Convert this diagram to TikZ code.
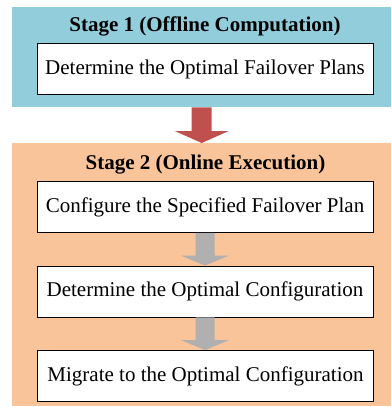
\documentclass[tikz,border=0pt]{standalone}
\usepackage{fontspec}
\setmainfont{Liberation Serif}
\usetikzlibrary{calc}
\definecolor{stageblue}{HTML}{92CDDC}
\definecolor{stageorange}{HTML}{F9C499}
\definecolor{arrowred}{HTML}{C0504D}
\definecolor{arrowgray}{HTML}{B0B0B0}
\tikzset{
  x=1pt, y=1pt,
  stagebg/.style={draw=none},
  stagetitle/.style={font=\fontsize{21}{24}\selectfont\bfseries, inner sep=0pt},
  taskbox/.style={draw=black, line width=0.8pt, fill=white, minimum width=336pt,
    minimum height=51pt, inner sep=0pt, font=\fontsize{21}{24}\selectfont},
}
% block arrow between two nodes: shaft half-width, head half-width, head length
\newcommand{\blockarrow}[6]{%
  \fill[#3] let \p1=(#1.south), \p2=(#2.north) in
    (\x1-#4,\y1) -- (\x1+#4,\y1) -- (\x1+#4,\y2+#6) -- (\x1+#5,\y2+#6)
    -- (\x1,\y2) -- (\x1-#5,\y2+#6) -- (\x1-#4,\y2+#6) -- cycle;}
\begin{document}
\begin{tikzpicture}
\useasboundingbox (0,0) rectangle (391,-407);
% stage backgrounds
\node[stagebg, fill=stageblue, minimum width=379pt, minimum height=100pt, anchor=north west, inner sep=0pt] (s1) at (12,-7) {};
\node[stagebg, fill=stageorange, minimum width=379pt, minimum height=263pt, anchor=north west, inner sep=0pt] (s2) at (12,-143) {};
% titles
\node[stagetitle] (t1) at (205,-26) {Stage 1 (Offline Computation)};
\node[stagetitle] (t2) at (205.5,-165) {Stage 2 (Online Execution)};
% task boxes
\node[taskbox] (b1) at (205,-69) {Determine the Optimal Failover Plans};
\node[taskbox] (b2) at (205,-207) {Configure the Specified Failover Plan};
\node[taskbox] (b3) at (205,-291.5) {Determine the Optimal Configuration};
\node[taskbox] (b4) at (205.5,-376) {Migrate to the Optimal Configuration};
% arrows
\blockarrow{s1}{s2}{arrowred}{10}{27}{12}
\blockarrow{b2}{b3}{arrowgray}{9.5}{24}{10}
\blockarrow{b3}{b4}{arrowgray}{9.5}{24}{10}
\end{tikzpicture}
\end{document}
